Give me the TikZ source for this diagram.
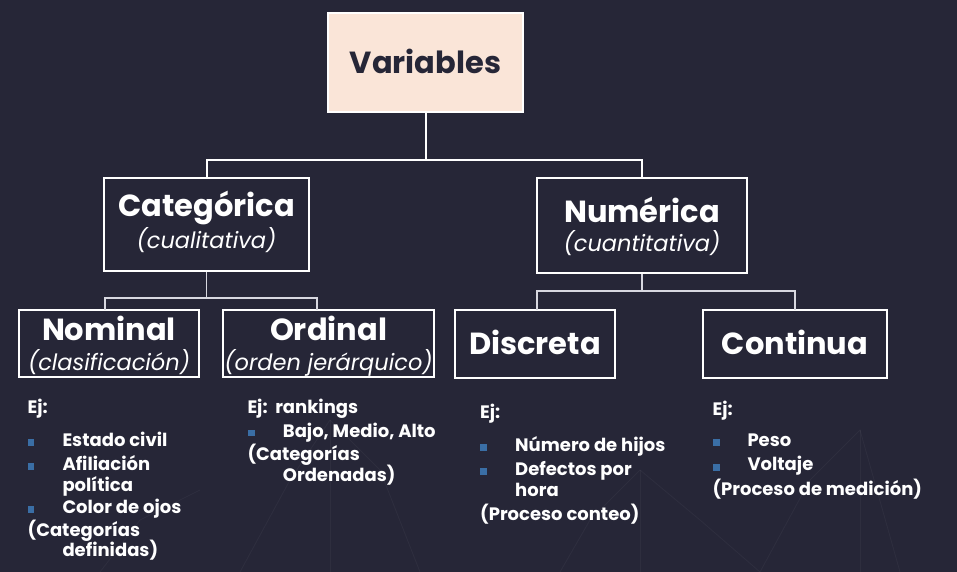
\documentclass[tikz,border=0pt]{standalone}
\usepackage{fontspec}
\setmainfont{Poppins}
\definecolor{bg}{HTML}{262637}
\definecolor{peach}{HTML}{FAE5D8}
\definecolor{bul}{HTML}{3A6EA5}
\definecolor{subline}{HTML}{D8D8E0}
\tikzset{
  box/.style={draw=white, line width=2.6pt, fill=bg, inner sep=0pt},
  title/.style={anchor=base, text=white, font=\fontsize{30.5}{32}\selectfont\bfseries, inner sep=0pt},
  subt/.style={anchor=base, text=white, font=\fontsize{22.5}{24}\selectfont\itshape, inner sep=0pt},
  body/.style={anchor=base west, text=white, font=\fontsize{18}{20}\selectfont\bfseries, inner sep=0pt},
  bullet/.style={fill=bul, minimum size=6.5pt, inner sep=0pt},
  conn/.style={draw=white, line width=2pt},
  subconn/.style={draw=subline, line width=1.6pt},
}
\begin{document}
\begin{tikzpicture}[x=1pt,y=-1pt]
\fill[bg] (0,0) rectangle (957,572);
\useasboundingbox (0,0) rectangle (957,572);
% faint background network
\begin{scope}[draw=white, opacity=0.04, line width=0.8pt]
\draw (240,572) -- (290,480) -- (330,420) -- (380,470) -- (420,572);
\draw (560,572) -- (590,520) -- (640,470) -- (700,520) -- (760,572);
\draw (760,572) -- (810,480) -- (860,430) -- (900,572);
\draw (100,572) -- (140,520) -- (200,490);
\draw (330,420) -- (330,572);
\draw (640,470) -- (640,572);
\draw (860,430) -- (860,572);
\end{scope}
% boxes
\node[box, fill=peach, minimum width=195pt, minimum height=99pt] (var) at (425.5,62.5) {};
\node[box, minimum width=205pt, minimum height=93pt] (cat) at (206.5,224.5) {};
\node[box, minimum width=210pt, minimum height=95pt] (num) at (642,225.5) {};
\node[box, minimum width=180pt, minimum height=67pt] (nom) at (109,343.5) {};
\node[box, minimum width=211pt, minimum height=67pt] (ord) at (328.5,343.5) {};
\node[box, minimum width=160pt, minimum height=68pt] (dis) at (535,344) {};
\node[box, minimum width=184pt, minimum height=68pt] (con) at (795,344) {};
% connectors
\coordinate (j1) at (425.5,160);
\draw[conn] (var.south) -- (j1);
\draw[conn] (cat.north) -- (cat.north |- j1) -- (num.north |- j1) -- (num.north);
\coordinate (j2) at (206.5,298);
\coordinate (nomtop) at (105,310);
\coordinate (ordtop) at (317,310);
\draw[subconn] (cat.south) -- (j2);
\draw[subconn] (nomtop) -- (nomtop |- j2) -- (ordtop |- j2) -- (ordtop);
\coordinate (j3) at (642,291);
\coordinate (distop) at (537,310);
\coordinate (contop) at (795,310);
\draw[subconn] (num.south) -- (j3);
\draw[subconn] (distop) -- (distop |- j3) -- (contop |- j3) -- (contop);
% titles
\node[title, text=bg, font=\fontsize{30.5}{32}\selectfont\bfseries] (tvar) at (425.5,74) {Variables};
\node[title] (tcat) at (206.5,216.5) {Categórica};
\node[subt] (scat) at (206.5,248) {(cualitativa)};
\node[title] (tnum) at (642,222) {Numérica};
\node[subt] (snum) at (642,251.5) {(cuantitativa)};
\node[title] (tnom) at (109,340) {Nominal};
\node[subt] (snom) at (109,370) {(clasificación)};
\node[title] (tord) at (328.5,340) {Ordinal};
\node[subt] (sord) at (328.5,370) {(orden jerárquico)};
\node[title] (tdis) at (535,354) {Discreta};
\node[title] (tcon) at (795,354) {Continua};
% Nominal examples
\node[body] (a0) at (27.5,413) {Ej:};
\node[bullet] (ab1) at (31,442.7) {};
\node[body] (a1) at (62.3,446.7) {Estado civil};
\node[bullet] (ab2) at (31,466.7) {};
\node[body] (a2) at (62.3,470.7) {Afiliación};
\node[body] (a3) at (62.3,491.7) {política};
\node[bullet] (ab3) at (31,509.3) {};
\node[body] (a4) at (62.3,513) {Color de ojos};
\node[body] (a5) at (27.5,536) {(Categorías};
\node[body] (a6) at (62.3,556.7) {definidas)};
% Ordinal examples
\node[body] (b0) at (247.3,413.3) {Ej:\ \ rankings};
\node[bullet] (bb1) at (251.5,433) {};
\node[body] (b1) at (282.7,437.3) {Bajo, Medio, Alto};
\node[body] (b2) at (247.3,460) {(Categorías};
\node[body] (b3) at (282.7,481.7) {Ordenadas)};
% Discreta examples
\node[body] (c0) at (480,418) {Ej:};
\node[bullet] (cb1) at (483.7,447.7) {};
\node[body] (c1) at (515,451.7) {Número de hijos};
\node[bullet] (cb2) at (483.7,471.7) {};
\node[body] (c2) at (515,475.7) {Defectos por};
\node[body] (c3) at (515,496.7) {hora};
\node[body] (c4) at (480,520) {(Proceso conteo)};
% Continua examples
\node[body] (d0) at (712.3,415) {Ej:};
\node[bullet] (db1) at (716.3,442.7) {};
\node[body] (d1) at (747.3,446.7) {Peso};
\node[bullet] (db2) at (716.3,467.3) {};
\node[body] (d2) at (747.3,470.7) {Voltaje};
\node[body] (d3) at (712.3,495) {(Proceso de medición)};
\end{tikzpicture}
\end{document}
